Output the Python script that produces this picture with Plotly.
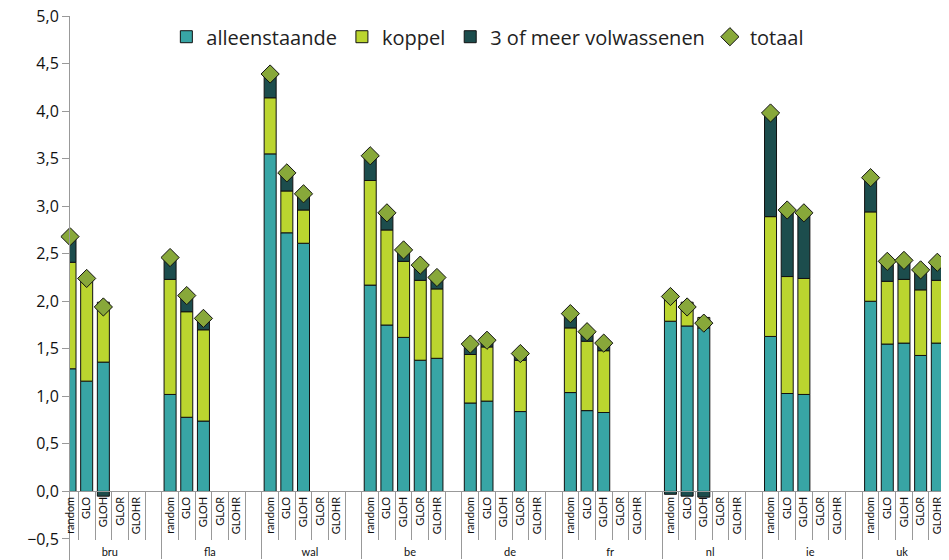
import plotly.graph_objects as go

regions = ["bru", "fla", "wal", "be", "de", "fr", "nl", "ie", "uk"]
methods = ["random", "GLO", "GLOH", "GLOR", "GLOHR"]
spacer = " "

# values per region, per method (None = no bar)
alleenstaande = {
    "bru": [1.29, 1.16, 1.36, None, None],
    "fla": [1.02, 0.78, 0.74, None, None],
    "wal": [3.55, 2.72, 2.61, None, None],
    "be":  [2.17, 1.75, 1.62, 1.38, 1.40],
    "de":  [0.93, 0.95, None, 0.84, None],
    "fr":  [1.04, 0.85, 0.83, None, None],
    "nl":  [1.79, 1.74, 1.72, None, None],
    "ie":  [1.63, 1.03, 1.02, None, None],
    "uk":  [2.00, 1.55, 1.56, 1.43, 1.56],
}
koppel = {
    "bru": [1.12, 1.05, 0.63, None, None],
    "fla": [1.21, 1.11, 0.96, None, None],
    "wal": [0.59, 0.44, 0.35, None, None],
    "be":  [1.10, 1.00, 0.80, 0.84, 0.73],
    "de":  [0.51, 0.57, None, 0.54, None],
    "fr":  [0.68, 0.73, 0.65, None, None],
    "nl":  [0.29, 0.25, 0.11, None, None],
    "ie":  [1.26, 1.23, 1.22, None, None],
    "uk":  [0.94, 0.66, 0.67, 0.69, 0.66],
}
drie_of_meer = {
    "bru": [0.27, 0.03, -0.05, None, None],
    "fla": [0.23, 0.17, 0.12, None, None],
    "wal": [0.25, 0.19, 0.17, None, None],
    "be":  [0.26, 0.18, 0.12, 0.16, 0.12],
    "de":  [0.11, 0.07, None, 0.07, None],
    "fr":  [0.15, 0.10, 0.08, None, None],
    "nl":  [-0.03, -0.05, -0.06, None, None],
    "ie":  [1.09, 0.70, 0.69, None, None],
    "uk":  [0.36, 0.21, 0.20, 0.21, 0.19],
}
totaal = {
    "bru": [2.68, 2.24, 1.94, None, None],
    "fla": [2.46, 2.06, 1.82, None, None],
    "wal": [4.39, 3.35, 3.13, None, None],
    "be":  [3.53, 2.93, 2.54, 2.38, 2.25],
    "de":  [1.55, 1.59, None, 1.45, None],
    "fr":  [1.87, 1.68, 1.56, None, None],
    "nl":  [2.05, 1.94, 1.77, None, None],
    "ie":  [3.98, 2.96, 2.93, None, None],
    "uk":  [3.30, 2.42, 2.43, 2.33, 2.41],
}

outer, inner = [], []
def flat(d):
    out = []
    for i, r in enumerate(regions):
        out += d[r]
        if i < len(regions) - 1:
            out.append(None)
    return out

for i, r in enumerate(regions):
    for m in methods:
        outer.append(r); inner.append(m)
    if i < len(regions) - 1:
        outer.append(r); inner.append(spacer)
x = [outer, inner]
n_slots = len(inner)

line = dict(color="#111111", width=1)
fig = go.Figure()
fig.add_trace(go.Bar(name="alleenstaande", x=x, y=flat(alleenstaande),
                     marker=dict(color="#38A5A5", line=line)))
fig.add_trace(go.Bar(name="koppel", x=x, y=flat(koppel),
                     marker=dict(color="#BBD52F", line=line)))
fig.add_trace(go.Bar(name="3 of meer volwassenen", x=x, y=flat(drie_of_meer),
                     marker=dict(color="#1C4D4D", line=line)))
fig.add_trace(go.Scatter(name="totaal", x=x, y=flat(totaal), mode="markers",
                         cliponaxis=False,
                         marker=dict(symbol="diamond", size=14, color="#88A83A",
                                     line=dict(color="#111111", width=1))))

font = "Open Sans, sans-serif"
ymin = -0.5 - 22 / 95
fig.update_layout(
    width=949, height=560,
    margin=dict(l=62, r=3, t=8, b=7, autoexpand=False),
    barmode="relative", bargap=0.28,
    separators=",.",
    plot_bgcolor="white", paper_bgcolor="white",
    font=dict(family=font, color="#222222"),
    showlegend=True,
    legend=dict(orientation="h", x=0.109, xanchor="left", y=0.962, yanchor="middle",
                font=dict(size=20, family=font), itemwidth=30, traceorder="normal",
                bgcolor="rgba(0,0,0,0)"),
    xaxis=dict(type="multicategory", anchor="free", position=(0 - ymin) / (5.0 - ymin),
               range=[0, n_slots], automargin=False,
               showline=True, linecolor="#999999", linewidth=1,
               ticks="outside", tickson="boundaries", ticklen=48, tickcolor="#999999",
               tickangle=-90, tickfont=dict(size=11, family="Lato, sans-serif", color="#111111"),
               showdividers=True, dividercolor="#999999", dividerwidth=1,
               showgrid=False),
    yaxis=dict(range=[ymin, 5.0], tickvals=[-0.5, 0, 0.5, 1, 1.5, 2, 2.5, 3, 3.5, 4, 4.5, 5],
               tickformat=".1f", automargin=False, ticklabeloverflow="allow",
               showline=True, linecolor="#999999", linewidth=1,
               ticks="outside", ticklen=7, tickcolor="#999999",
               tickfont=dict(size=16, family=font, color="#111111"), showgrid=False, zeroline=False),
)
fig.write_html("out.html")
